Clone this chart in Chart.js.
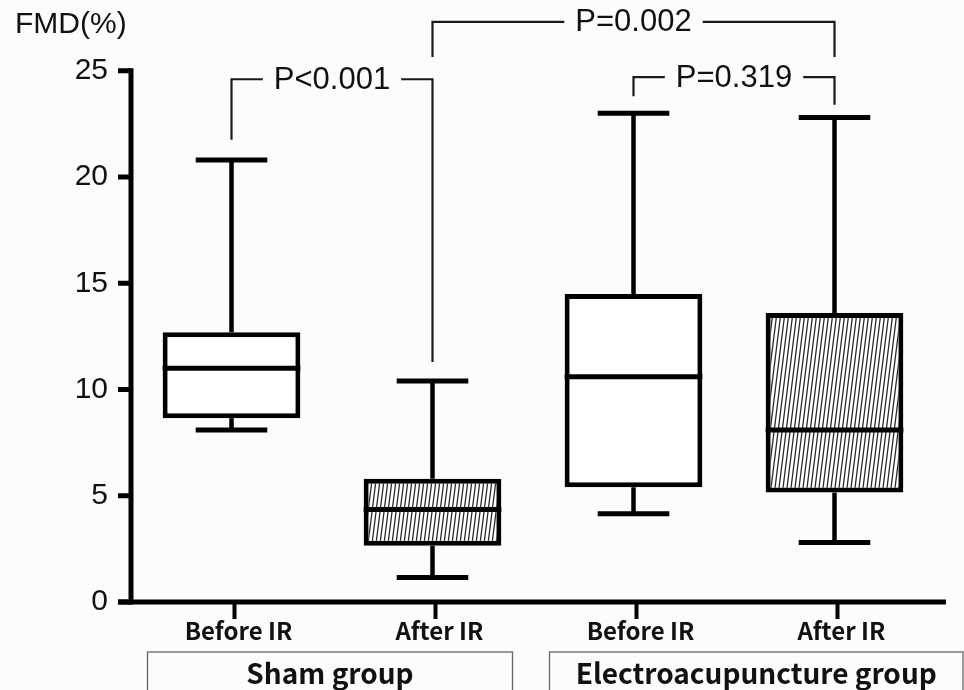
<!DOCTYPE html>
<html>
<head>
<meta charset="utf-8">
<script src="https://cdn.jsdelivr.net/npm/chart.js@4.4.1/dist/chart.umd.min.js"></script>
<style>
  html, body { margin: 0; padding: 0; background: #fcfcfc; }
  #wrap { width: 964px; height: 690px; position: relative; }
</style>
</head>
<body>
<div id="wrap"><canvas id="c"></canvas></div>
<script>
/* FMD box plot: sham vs electroacupuncture, before/after IR */
const categories = ["Before IR", "After IR", "Before IR", "After IR"];
const whiskerMax = [20.8, 10.4, 23.0, 22.8];
const q3 = [12.7, 5.8, 14.5, 13.6];
const median = [11.0, 4.35, 10.6, 8.1];
const q1 = [8.65, 2.65, 5.4, 5.15];
const whiskerMin = [8.1, 1.15, 4.15, 2.8];
const hatched = [false, true, false, true];

const yTickValues = [0, 5, 10, 15, 20, 25];
const yTitle = "FMD(%)";

const groupNames = ["Sham group", "Electroacupuncture group"];
const groupFirst = [0, 2];
const groupLast = [1, 3];

// significance brackets
const bracketFrom = [0, 1, 2];
const bracketTo = [1, 3, 3];
const bracketLevel = [24.6, 27.3, 24.7];
const bracketLeftEnd = [21.75, 25.65, 23.8];
const bracketRightEnd = [11.3, 25.65, 23.4];
const bracketLabels = ["P<0.001", "P=0.002", "P=0.319"];

const FONT = "'Liberation Sans', Arial, sans-serif";
const KFONT = "'Noto Sans CJK KR', 'Noto Sans', sans-serif";

function hatchPattern() {
  const c = document.createElement("canvas");
  c.width = 4; c.height = 32;
  const g = c.getContext("2d");
  g.fillStyle = "#fff"; g.fillRect(0, 0, 4, 32);
  g.strokeStyle = "#2a2a2a"; g.lineWidth = 1.3;
  g.beginPath();
  for (let k = -1; k <= 1; k++) { g.moveTo(k * 4, 32); g.lineTo(k * 4 + 4, 0); }
  g.stroke();
  return g.createPattern(c, "repeat");
}
const HATCH = hatchPattern();

function seg(ctx, x1, y1, x2, y2) { ctx.beginPath(); ctx.moveTo(x1, y1); ctx.lineTo(x2, y2); ctx.stroke(); }

const extras = {
  id: "boxExtras",
  afterDatasetsDraw(chart) {
    const { ctx, scales: { x, y } } = chart;
    const meta = chart.getDatasetMeta(0);
    ctx.save();
    ctx.strokeStyle = "#000";
    ctx.lineCap = "butt";
    meta.data.forEach((bar, i) => {
      const cx = x.getPixelForValue(i);
      const half = bar.width / 2;
      const cap = bar.width * 0.26;
      ctx.lineWidth = 5;
      seg(ctx, cx - half, y.getPixelForValue(median[i]), cx + half, y.getPixelForValue(median[i]));
      ctx.lineWidth = 4.5;
      seg(ctx, cx, y.getPixelForValue(q3[i]), cx, y.getPixelForValue(whiskerMax[i]));
      seg(ctx, cx, y.getPixelForValue(q1[i]), cx, y.getPixelForValue(whiskerMin[i]));
      ctx.lineWidth = 5;
      seg(ctx, cx - cap, y.getPixelForValue(whiskerMax[i]), cx + cap, y.getPixelForValue(whiskerMax[i]));
      seg(ctx, cx - cap, y.getPixelForValue(whiskerMin[i]), cx + cap, y.getPixelForValue(whiskerMin[i]));
    });

    // axes
    const y0 = y.getPixelForValue(0);
    const axX = chart.chartArea.left;
    ctx.lineWidth = 5;
    seg(ctx, axX, y0 + 2.5, axX, y.getPixelForValue(25) - 2.5);
    seg(ctx, axX - 13, y0, chart.chartArea.right + 11, y0);
    yTickValues.forEach(v => seg(ctx, axX - 13, y.getPixelForValue(v), axX, y.getPixelForValue(v)));
    ctx.lineWidth = 4;
    categories.forEach((c, i) => seg(ctx, x.getPixelForValue(i) + 3, y0, x.getPixelForValue(i) + 3, y0 + 17));

    // y title
    ctx.fillStyle = "#111";
    ctx.font = "30px " + FONT;
    ctx.textAlign = "left"; ctx.textBaseline = "alphabetic";
    ctx.fillText(yTitle, 15, 33);

    // brackets
    ctx.font = "31px " + FONT;
    ctx.textAlign = "center"; ctx.textBaseline = "middle";
    ctx.lineWidth = 2.2;
    ctx.strokeStyle = "#1a1a1a";
    bracketLabels.forEach((lab, i) => {
      const xl = x.getPixelForValue(bracketFrom[i]);
      const xr = x.getPixelForValue(bracketTo[i]);
      const yl = y.getPixelForValue(bracketLevel[i]);
      const mid = (xl + xr) / 2;
      const tw = ctx.measureText(lab).width / 2 + 11;
      ctx.beginPath();
      ctx.moveTo(xl, y.getPixelForValue(bracketLeftEnd[i]));
      ctx.lineTo(xl, yl); ctx.lineTo(mid - tw, yl);
      ctx.moveTo(mid + tw, yl); ctx.lineTo(xr, yl);
      ctx.lineTo(xr, y.getPixelForValue(bracketRightEnd[i]));
      ctx.stroke();
      ctx.fillText(lab, mid, yl + 1);
    });

    // group boxes
    ctx.strokeStyle = "#666"; ctx.lineWidth = 1.3;
    ctx.font = "bold 28px " + KFONT;
    groupNames.forEach((name, g) => {
      const left = x.getPixelForValue(groupFirst[g]) - 84;
      const right = g === 0 ? x.getPixelForValue(groupLast[g]) + 80 : chart.width - 1;
      ctx.strokeRect(left, 652, right - left, 60);
      ctx.fillText(name, (left + right) / 2, 673);
    });
    ctx.restore();
  }
};

new Chart(document.getElementById("c"), {
  type: "bar",
  data: {
    labels: categories,
    datasets: [{
      data: categories.map((c, i) => [q1[i], q3[i]]),
      backgroundColor: hatched.map(h => h ? HATCH : "#fff"),
      borderColor: "#000",
      borderWidth: 5,
      borderSkipped: false,
      barPercentage: 0.685,
      categoryPercentage: 1
    }]
  },
  options: {
    responsive: true,
    maintainAspectRatio: false,
    animation: false,
    layout: { padding: { left: 0, right: 29, top: 7, bottom: 0 } },
    plugins: { legend: { display: false }, tooltip: { enabled: false } },
    scales: {
      x: {
        offset: true,
        grid: { display: false, drawTicks: false },
        border: { display: false },
        ticks: { color: "#111", font: { family: KFONT, size: 24, weight: "bold" }, padding: 14, labelOffset: 7, maxRotation: 0 },
        afterFit: s => { s.height = 88; s.paddingLeft = 0; s.paddingRight = 0; }
      },
      y: {
        min: 0, max: 28,
        grid: { display: false, drawTicks: false },
        border: { display: false },
        afterBuildTicks: s => { s.ticks = yTickValues.map(v => ({ value: v })); },
        ticks: { color: "#111", font: { family: FONT, size: 30 }, padding: 23 },
        afterFit: s => { s.width = 131; s.paddingTop = 0; s.paddingBottom = 0; }
      }
    }
  },
  plugins: [extras]
});
</script>
</body>
</html>
